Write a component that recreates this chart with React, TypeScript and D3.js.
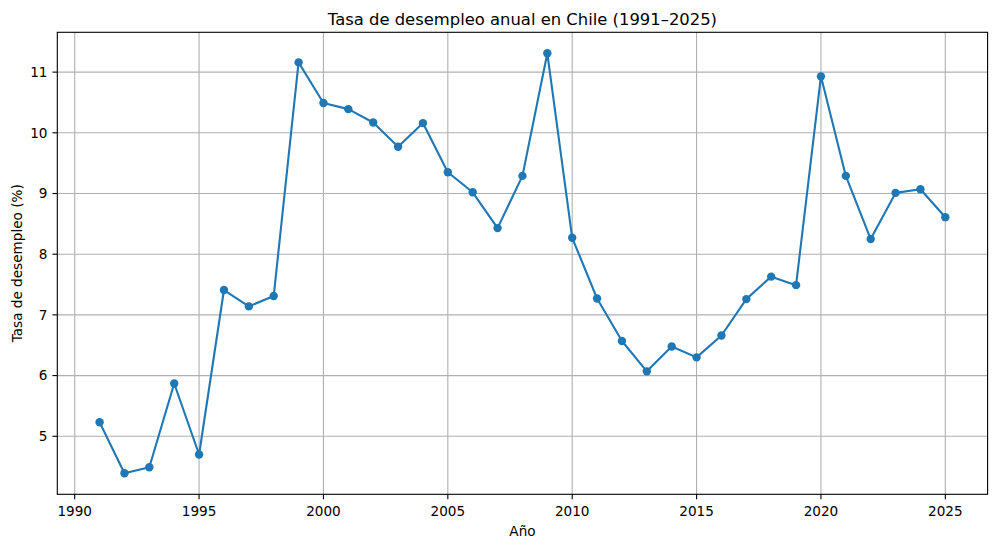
import React from "react";
import * as d3 from "d3";

const years: number[] = [
  1991, 1992, 1993, 1994, 1995, 1996, 1997, 1998, 1999, 2000,
  2001, 2002, 2003, 2004, 2005, 2006, 2007, 2008, 2009, 2010,
  2011, 2012, 2013, 2014, 2015, 2016, 2017, 2018, 2019, 2020,
  2021, 2022, 2023, 2024, 2025,
];
const rates: number[] = [
  5.23, 4.39, 4.49, 5.87, 4.70, 7.41, 7.14, 7.31, 11.16, 10.49,
  10.39, 10.17, 9.77, 10.16, 9.35, 9.02, 8.43, 9.29, 11.31, 8.27,
  7.27, 6.57, 6.07, 6.48, 6.30, 6.66, 7.26, 7.63, 7.49, 10.93,
  9.29, 8.25, 9.01, 9.07, 8.61,
];
const xTicks: number[] = [1990, 1995, 2000, 2005, 2010, 2015, 2020, 2025];
const yTicks: number[] = [5, 6, 7, 8, 9, 10, 11];

const title = "Tasa de desempleo anual en Chile (1991–2025)";
const xLabel = "Año";
const yLabel = "Tasa de desempleo (%)";

const W = 997;
const H = 547;
const left = 57.3;
const right = 987.6;
const top = 32.3;
const bottom = 494.3;
const FONT = "DejaVu Sans, sans-serif";
const BLUE = "#1f77b4";
const FS = 13.6;

export default function App() {
  React.useEffect(() => {
    document.body.style.margin = "0";
  }, []);

  const xMin = d3.min(years)!;
  const xMax = d3.max(years)!;
  const xPad = (xMax - xMin) * 0.05;
  const yMin = d3.min(rates)!;
  const yMax = d3.max(rates)!;
  const yPad = (yMax - yMin) * 0.05;

  const x = d3.scaleLinear().domain([xMin - xPad, xMax + xPad]).range([left, right]);
  const y = d3.scaleLinear().domain([yMin - yPad, yMax + yPad]).range([bottom, top]);

  const pts = years.map((yr, i) => [yr, rates[i]] as [number, number]);
  const line = d3
    .line<[number, number]>()
    .x((d) => x(d[0]))
    .y((d) => y(d[1]));

  return (
    <svg
      width={W}
      height={H}
      style={{ position: "absolute", left: 0, top: 0, display: "block", background: "#fff" }}
      fontFamily={FONT}
    >
      <rect x={0} y={0} width={W} height={H} fill="#fff" />
      <g stroke="#b0b0b0" strokeWidth={1.1}>
        {xTicks.map((t) => (
          <line key={"gx" + t} x1={x(t)} x2={x(t)} y1={top} y2={bottom} />
        ))}
        {yTicks.map((t) => (
          <line key={"gy" + t} x1={left} x2={right} y1={y(t)} y2={y(t)} />
        ))}
      </g>
      <path d={line(pts) || ""} fill="none" stroke={BLUE} strokeWidth={2.1} strokeLinejoin="round" strokeLinecap="square" />
      <g fill={BLUE}>
        {pts.map((p, i) => (
          <circle key={"c" + i} cx={x(p[0])} cy={y(p[1])} r={4.2} />
        ))}
      </g>
      <rect x={left} y={top} width={right - left} height={bottom - top} fill="none" stroke="#000" strokeWidth={1.1} />
      <g>
        {xTicks.map((t) => (
          <g key={"xt" + t}>
            <line x1={x(t)} x2={x(t)} y1={bottom} y2={bottom + 4.9} stroke="#000" strokeWidth={1.1} />
            <text x={x(t)} y={bottom + 21.3} textAnchor="middle" fontSize={FS} fill="#000">
              {t}
            </text>
          </g>
        ))}
      </g>
      <g>
        {yTicks.map((t) => (
          <g key={"yt" + t}>
            <line x1={left - 4.9} x2={left} y1={y(t)} y2={y(t)} stroke="#000" strokeWidth={1.1} />
            <text x={left - 9.8} y={y(t)} dy="0.36em" textAnchor="end" fontSize={FS} fill="#000">
              {t}
            </text>
          </g>
        ))}
      </g>
      <text x={(left + right) / 2} y={24.5} textAnchor="middle" fontSize={16.4} fill="#000">
        {title}
      </text>
      <text x={(left + right) / 2} y={535.5} textAnchor="middle" fontSize={FS} fill="#000">
        {xLabel}
      </text>
      <text
        transform={`translate(21.5, ${(top + bottom) / 2}) rotate(-90)`}
        textAnchor="middle"
        fontSize={FS}
        fill="#000"
      >
        {yLabel}
      </text>
    </svg>
  );
}
